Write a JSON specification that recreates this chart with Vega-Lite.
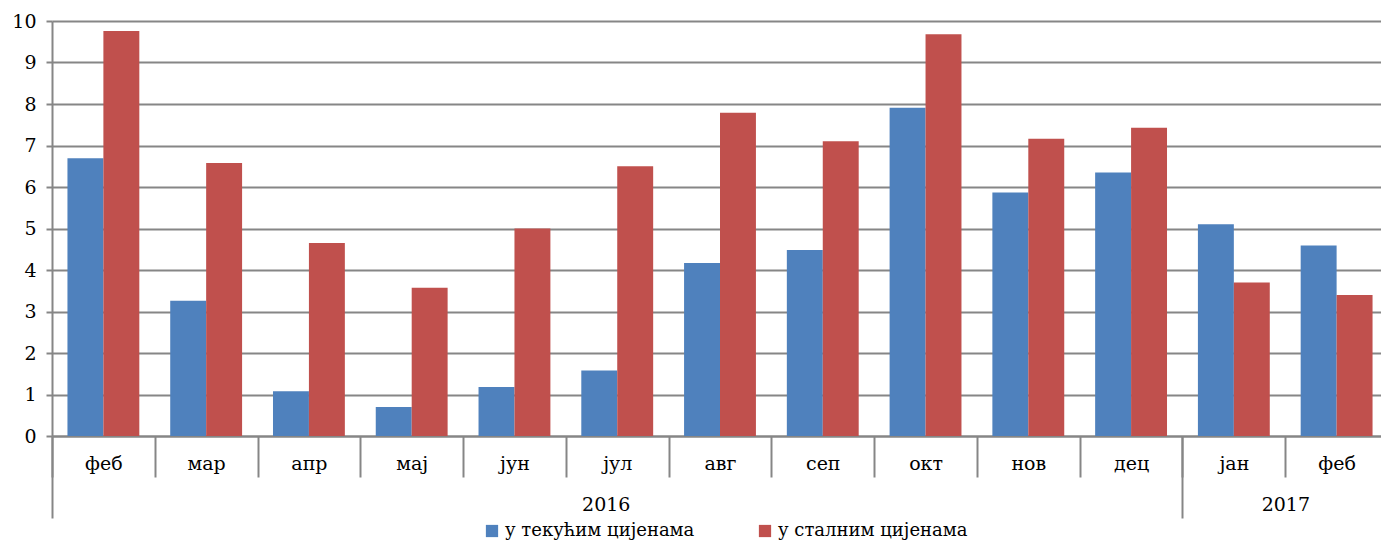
{
  "$schema": "https://vega.github.io/schema/vega-lite/v6.json",
  "width": 1336,
  "height": 415,
  "autosize": "none",
  "padding": {"left": 52, "top": 21, "right": 0, "bottom": 104},
  "background": "white",
  "config": {
    "font": "DejaVu Serif",
    "view": {"stroke": null}
  },
  "data": {
    "values": [
      {"period": "феб 2016", "series": "у текућим цијенама", "value": 6.69},
      {"period": "феб 2016", "series": "у сталним цијенама", "value": 9.76},
      {"period": "мар 2016", "series": "у текућим цијенама", "value": 3.26},
      {"period": "мар 2016", "series": "у сталним цијенама", "value": 6.58},
      {"period": "апр 2016", "series": "у текућим цијенама", "value": 1.08},
      {"period": "апр 2016", "series": "у сталним цијенама", "value": 4.65},
      {"period": "мај 2016", "series": "у текућим цијенама", "value": 0.70},
      {"period": "мај 2016", "series": "у сталним цијенама", "value": 3.57},
      {"period": "јун 2016", "series": "у текућим цијенама", "value": 1.18},
      {"period": "јун 2016", "series": "у сталним цијенама", "value": 5.0},
      {"period": "јул 2016", "series": "у текућим цијенама", "value": 1.58},
      {"period": "јул 2016", "series": "у сталним цијенама", "value": 6.50},
      {"period": "авг 2016", "series": "у текућим цијенама", "value": 4.17},
      {"period": "авг 2016", "series": "у сталним цијенама", "value": 7.79},
      {"period": "сеп 2016", "series": "у текућим цијенама", "value": 4.48},
      {"period": "сеп 2016", "series": "у сталним цијенама", "value": 7.10},
      {"period": "окт 2016", "series": "у текућим цијенама", "value": 7.91},
      {"period": "окт 2016", "series": "у сталним цијенама", "value": 9.68},
      {"period": "нов 2016", "series": "у текућим цијенама", "value": 5.87},
      {"period": "нов 2016", "series": "у сталним цијенама", "value": 7.16},
      {"period": "дец 2016", "series": "у текућим цијенама", "value": 6.35},
      {"period": "дец 2016", "series": "у сталним цијенама", "value": 7.43},
      {"period": "јан 2017", "series": "у текућим цијенама", "value": 5.10},
      {"period": "јан 2017", "series": "у сталним цијенама", "value": 3.70},
      {"period": "феб 2017", "series": "у текућим цијенама", "value": 4.59},
      {"period": "феб 2017", "series": "у сталним цијенама", "value": 3.40}
    ]
  },
  "layer": [
    {
      "mark": {"type": "bar"},
      "encoding": {
        "x": {
          "field": "period",
          "type": "nominal",
          "sort": null,
          "scale": {"paddingInner": 0, "paddingOuter": 0},
          "axis": {
            "orient": "bottom",
            "title": null,
            "labelExpr": "datum.value ? split(datum.value, ' ')[0] : ''",
            "labelAngle": 0,
            "labelFontSize": 19,
            "labelColor": "#000000",
            "labelBaseline": "middle",
            "labelPadding": -14,
            "tickBand": "extent",
            "tickColor": "#868686",
            "tickWidth": 2,
            "tickSize": 41,
            "domainColor": "#868686",
            "domainWidth": 2,
            "grid": false
          }
        },
        "xOffset": {
          "field": "series",
          "type": "nominal",
          "sort": ["у текућим цијенама", "у сталним цијенама"],
          "scale": {"paddingInner": 0, "paddingOuter": 0.43}
        },
        "y": {
          "field": "value",
          "type": "quantitative",
          "scale": {"domain": [0, 10], "nice": false},
          "axis": {
            "title": null,
            "values": [0, 1, 2, 3, 4, 5, 6, 7, 8, 9, 10],
            "labelFontSize": 19,
            "labelColor": "#000000",
            "labelPadding": 10,
            "tickSize": 6,
            "tickColor": "#868686",
            "tickWidth": 2,
            "domainColor": "#868686",
            "domainWidth": 2,
            "gridColor": "#868686",
            "gridWidth": 2
          }
        },
        "color": {
          "field": "series",
          "type": "nominal",
          "sort": ["у текућим цијенама", "у сталним цијенама"],
          "scale": {"domain": ["у текућим цијенама", "у сталним цијенама"], "range": ["#4F81BD", "#C0504D"]},
          "legend": {
            "title": null,
            "orient": "none",
            "direction": "horizontal",
            "legendX": 431,
            "legendY": 501,
            "symbolType": "square",
            "symbolSize": 150,
            "symbolStrokeWidth": 0,
            "labelFontSize": 18,
            "labelLimit": 400,
            "labelColor": "#000000",
            "labelOffset": 4,
            "columnPadding": 61
          }
        }
      }
    },
    {
      "mark": {"type": "rule", "strokeOpacity": 0},
      "encoding": {
        "x": {
          "field": "period",
          "type": "nominal",
          "sort": null,
          "axis": {
            "orient": "bottom",
            "title": null,
            "values": ["феб 2016", "јан 2017"],
            "bandPosition": 0,
            "labels": false,
            "tickColor": "#868686",
            "tickWidth": 2,
            "tickSize": 82,
            "domain": false,
            "grid": false
          }
        }
      }
    },
    {
      "mark": {"type": "rule", "strokeOpacity": 0},
      "encoding": {
        "x": {
          "field": "period",
          "type": "nominal",
          "sort": null,
          "axis": {
            "orient": "bottom",
            "title": null,
            "values": ["јул 2016", "јан 2017"],
            "labelExpr": "datum.value ? split(datum.value, ' ')[1] : ''",
            "labelAngle": 0,
            "labelFontSize": 19,
            "labelColor": "#000000",
            "labelBaseline": "middle",
            "labelPadding": 68,
            "labelOffset": {"condition": {"test": "datum.value === 'јан 2017'", "value": 52}, "value": -11},
            "ticks": false,
            "domain": false,
            "grid": false
          }
        }
      }
    }
  ],
  "resolve": {"axis": {"x": "independent"}}
}
